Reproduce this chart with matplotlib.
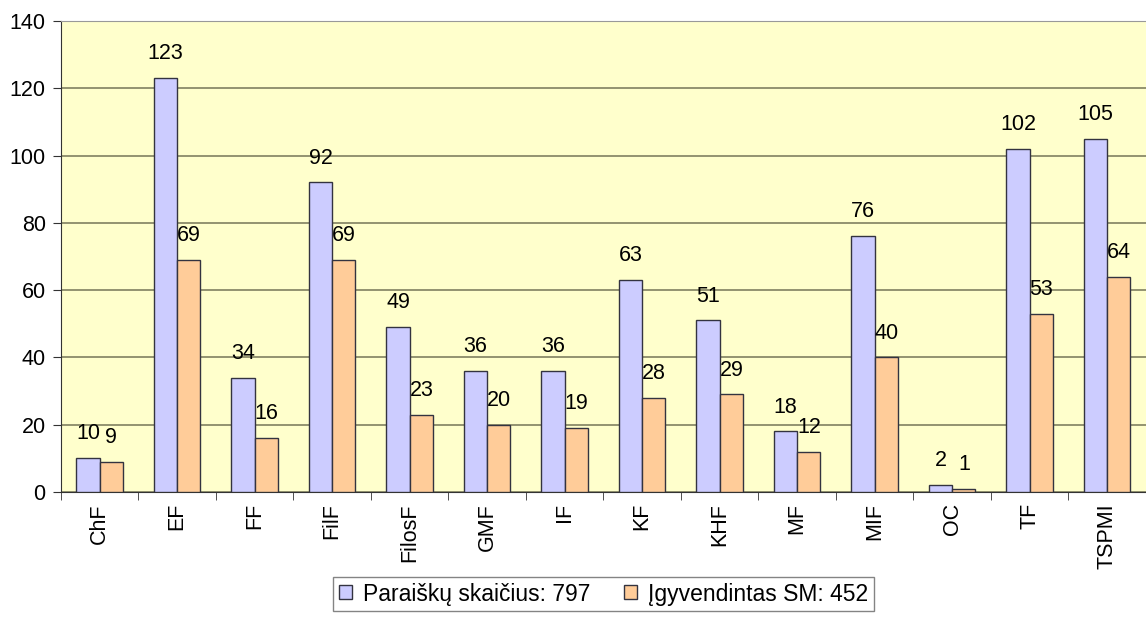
import numpy as np
import matplotlib.pyplot as plt
from matplotlib.ticker import FixedLocator

plt.rcParams['font.family'] = ['Liberation Sans', 'DejaVu Sans']

categories = ['ChF', 'EF', 'FF', 'FilF', 'FilosF', 'GMF', 'IF', 'KF', 'KHF', 'MF', 'MIF', 'OC', 'TF', 'TSPMI']
paraisku = [10, 123, 34, 92, 49, 36, 36, 63, 51, 18, 76, 2, 102, 105]
igyvendintas = [9, 69, 16, 69, 23, 20, 19, 28, 29, 12, 40, 1, 53, 64]

fs = 15.5

fig = plt.figure(figsize=(11.46, 6.17), dpi=100)
ax = fig.add_axes([0.0532, 0.2026, 0.9468, 0.7634])
ax.set_facecolor('#FFFFCC')

x = np.arange(len(categories))
w = 0.3
b1 = ax.bar(x - w / 2, paraisku, w, color='#CCCCFF', edgecolor='#333340', linewidth=1,
            label='Paraiškų skaičius: 797', zorder=3)
b2 = ax.bar(x + w / 2, igyvendintas, w, color='#FFCC99', edgecolor='#333340', linewidth=1,
            label='Įgyvendintas SM: 452', zorder=3)

for bars in (b1, b2):
    for r in bars:
        h = r.get_height()
        ax.annotate(str(int(h)), (r.get_x() + r.get_width() / 2, h), xytext=(0, 10),
                    textcoords='offset points', ha='center', va='bottom', fontsize=fs)

ax.set_xlim(-0.5, len(categories) - 0.5)
ax.set_ylim(0, 140)
ax.set_yticks(range(0, 141, 20))
ax.yaxis.grid(True, color='#808060', linewidth=1.2, zorder=0)

ax.set_xticks(x)
ax.set_xticklabels(categories, rotation=90, fontsize=fs)
ax.tick_params(axis='x', length=0, pad=8)
ax.xaxis.set_minor_locator(FixedLocator(np.arange(-0.5, len(categories), 1)))
ax.tick_params(axis='x', which='minor', length=6, color='#333333')
ax.tick_params(axis='y', labelsize=fs, length=6, color='#333333', pad=5)

ax.spines['top'].set_color('#999999')
ax.spines['right'].set_visible(False)
ax.spines['left'].set_color('#333333')
ax.spines['bottom'].set_color('#333333')

leg = ax.legend(loc='upper center', bbox_to_anchor=(0.5, -0.180), ncol=2, fontsize=16.5,
                frameon=True, fancybox=False, edgecolor='#666666', handlelength=0.57,
                handleheight=0.57, handletextpad=0.45, columnspacing=1.5, borderpad=0.25,
                borderaxespad=0)
leg.get_frame().set_linewidth(1)

fig.savefig('out.png', dpi=100)
